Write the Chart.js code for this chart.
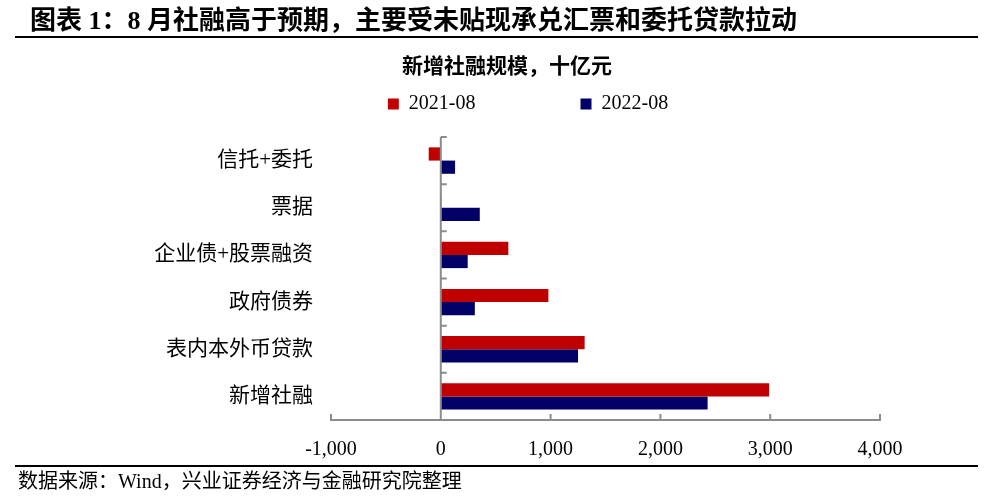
<!DOCTYPE html>
<html>
<head>
<meta charset="utf-8">
<title>新增社融规模</title>
<script src="https://cdn.jsdelivr.net/npm/chart.js@4.4.0/dist/chart.umd.min.js"></script>
<style>
    html, body { margin: 0; padding: 0; background: #fff; }
    body { width: 986px; height: 497px; position: relative; overflow: hidden; color: #000;
           font-family: 'Liberation Serif', 'Noto Sans CJK SC', serif; }
    #title { position: absolute; left: 30px; top: 5px; font-size: 26px; font-weight: bold; line-height: 32px; white-space: nowrap; }
    #topRule { position: absolute; left: 15px; width: 963px; top: 36px; height: 2px; background: #000; }
    #heading { position: absolute; left: 0; width: 1014px; top: 53px; text-align: center; font-size: 21px; font-weight: bold; line-height: 26px; }
    #bottomRule { position: absolute; left: 15px; width: 963px; top: 465px; height: 2px; background: #000; }
    #source { position: absolute; left: 18px; top: 469px; font-size: 20px; line-height: 24px; white-space: nowrap; }
    #wrap { position: absolute; left: 0; top: 0; width: 986px; height: 497px; }
</style>
</head>
<body>
<div id="wrap"><canvas id="sfChart"></canvas></div>
<div id="title">图表 1：8 月社融高于预期，主要受未贴现承兑汇票和委托贷款拉动</div>
<div id="topRule"></div>
<div id="heading">新增社融规模，十亿元</div>
<div id="bottomRule"></div>
<div id="source">数据来源：Wind，兴业证券经济与金融研究院整理</div>
<script>
// values, in 十亿元
const categories = ['信托+委托', '票据', '企业债+股票融资', '政府债券', '表内本外币贷款', '新增社融'];
const seriesLabels = ['2021-08', '2022-08'];
const aug2021 = [-110, 5, 615, 980, 1310, 2990];
const aug2022 = [130, 355, 245, 310, 1250, 2430];
const xTicks = [-1000, 0, 1000, 2000, 3000, 4000];

const FONT = "'Liberation Serif', 'Noto Sans CJK SC', serif";
const AXIS_GREY = '#8c8c8c';

// zero line with category ticks, and upward tick marks on the value axis
const axisMarks = {
    id: 'axisMarks',
    afterDatasetsDraw(chart) {
        const { ctx, chartArea, scales: { x, y } } = chart;
        const zero = x.getPixelForValue(0);
        ctx.save();
        ctx.strokeStyle = AXIS_GREY;
        ctx.lineWidth = 2;
        ctx.beginPath();
        ctx.moveTo(zero, chartArea.top);
        ctx.lineTo(zero, chartArea.bottom);
        for (let i = 0; i < categories.length; i++) {
            const py = y.getPixelForValue(i - 0.5);
            ctx.moveTo(zero, py);
            ctx.lineTo(zero + 6, py);
        }
        xTicks.forEach(v => {
            const px = x.getPixelForValue(v);
            ctx.moveTo(px, chartArea.bottom);
            ctx.lineTo(px, chartArea.bottom - 6);
        });
        ctx.stroke();
        ctx.restore();
    }
};

document.addEventListener('DOMContentLoaded', function () {
    Chart.defaults.font.family = FONT;
    Chart.defaults.color = '#000';

    const ctx = document.getElementById('sfChart').getContext('2d');

    new Chart(ctx, {
        type: 'bar',
        data: {
            labels: categories,
            datasets: [{
                label: seriesLabels[0],
                data: aug2021,
                backgroundColor: '#c00000',
                borderWidth: 0,
            }, {
                label: seriesLabels[1],
                data: aug2022,
                backgroundColor: '#000066',
                borderWidth: 0,
            }]
        },
        options: {
            indexAxis: 'y',
            responsive: true,
            maintainAspectRatio: false,
            animation: false,
            categoryPercentage: 0.56,
            barPercentage: 1,
            layout: {
                padding: { top: 84, left: 150, right: 106, bottom: 35 }
            },
            plugins: {
                legend: {
                    position: 'top',
                    fullSize: false,
                    labels: {
                        boxWidth: 11,
                        boxHeight: 11,
                        padding: 10,
                        font: { size: 20 },
                        generateLabels(chart) {
                            const items = Chart.defaults.plugins.legend.labels.generateLabels(chart);
                            // spacing of the legend entries as in the source chart
                            items[0].text += '\u00a0'.repeat(19);
                            items[1].text += '\u00a0'.repeat(31);
                            return items;
                        }
                    }
                },
                // empty spacer between legend and plot
                subtitle: {
                    display: true,
                    text: '',
                    weight: 500,
                    padding: 0,
                    font: { size: 13, lineHeight: 1 }
                },
                tooltip: { enabled: false }
            },
            scales: {
                x: {
                    min: -1000,
                    max: 4000,
                    afterBuildTicks: s => { s.ticks = xTicks.map(v => ({ value: v })); },
                    afterFit: s => { s.height = 42; },
                    grid: { display: false, drawTicks: false },
                    border: { display: true, color: AXIS_GREY, width: 2 },
                    ticks: {
                        padding: 18,
                        font: { size: 20 },
                        maxRotation: 0,
                        callback: v => v.toLocaleString('en-US')
                    }
                },
                y: {
                    afterFit: s => { s.width = 181; },
                    grid: { display: false, drawTicks: false },
                    border: { display: false },
                    ticks: {
                        padding: 18,
                        font: { size: 21 }
                    }
                }
            }
        },
        plugins: [axisMarks]
    });
});
</script>
</body>
</html>
